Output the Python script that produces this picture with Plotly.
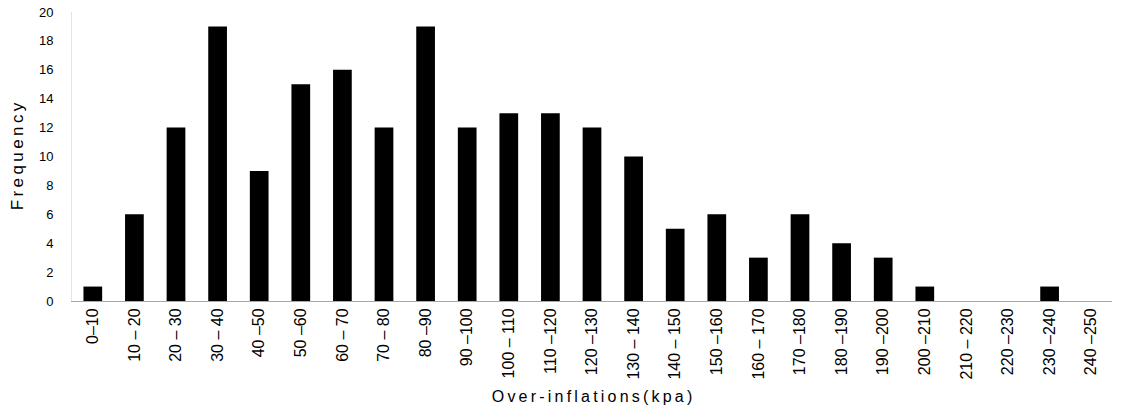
import plotly.graph_objects as go

# Over-inflation pressure bins (kPa) and their observed counts
bins = ["0–10", "10 – 20", "20 – 30", "30 – 40", "40 –50", "50 –60", "60 – 70",
        "70 – 80", "80 –90", "90 –100", "100 – 110", "110 –120", "120 –130",
        "130 – 140", "140 – 150", "150 –160", "160 – 170", "170 –180",
        "180 –190", "190 –200", "200 –210", "210 – 220", "220 –230",
        "230 –240", "240 –250"]
frequency = [1, 6, 12, 19, 9, 15, 16, 12, 19, 12, 13, 13, 12, 10, 5, 6, 3, 6,
             4, 3, 1, 0, 0, 1, 0]
y_ticks = list(range(0, 21, 2))

font_family = "Liberation Sans, Arial, sans-serif"


def spaced(text):
    """Open up letter spacing with thin spaces between characters."""
    return "\u2009".join(text)


fig = go.Figure(
    go.Bar(
        x=bins,
        y=frequency,
        marker=dict(color="black", line=dict(width=0)),
        width=0.45,
    )
)

fig.update_layout(
    width=1124,
    height=409,
    margin=dict(l=72, r=12, t=12, b=108),
    paper_bgcolor="white",
    plot_bgcolor="white",
    showlegend=False,
    font=dict(family=font_family, color="black", size=14),
)

fig.update_xaxes(
    type="category",
    automargin=False,
    tickangle=-90,
    tickfont=dict(size=16),
    showgrid=False,
    showline=True,
    linecolor="#a8a8a8",
    linewidth=1,
    ticks="",
    title=dict(text=spaced("Over-inflations(kpa)"), font=dict(size=16), standoff=12),
)

fig.update_yaxes(
    range=[0, 20],
    automargin=False,
    tickvals=y_ticks,
    tickfont=dict(size=13),
    showgrid=False,
    zeroline=False,
    showline=True,
    linecolor="#e4e4e4",
    linewidth=1,
    ticks="",
    ticklabelstandoff=15,
    title=dict(text=spaced("Frequency"), font=dict(size=17), standoff=10),
)

fig.write_html("out.html")
